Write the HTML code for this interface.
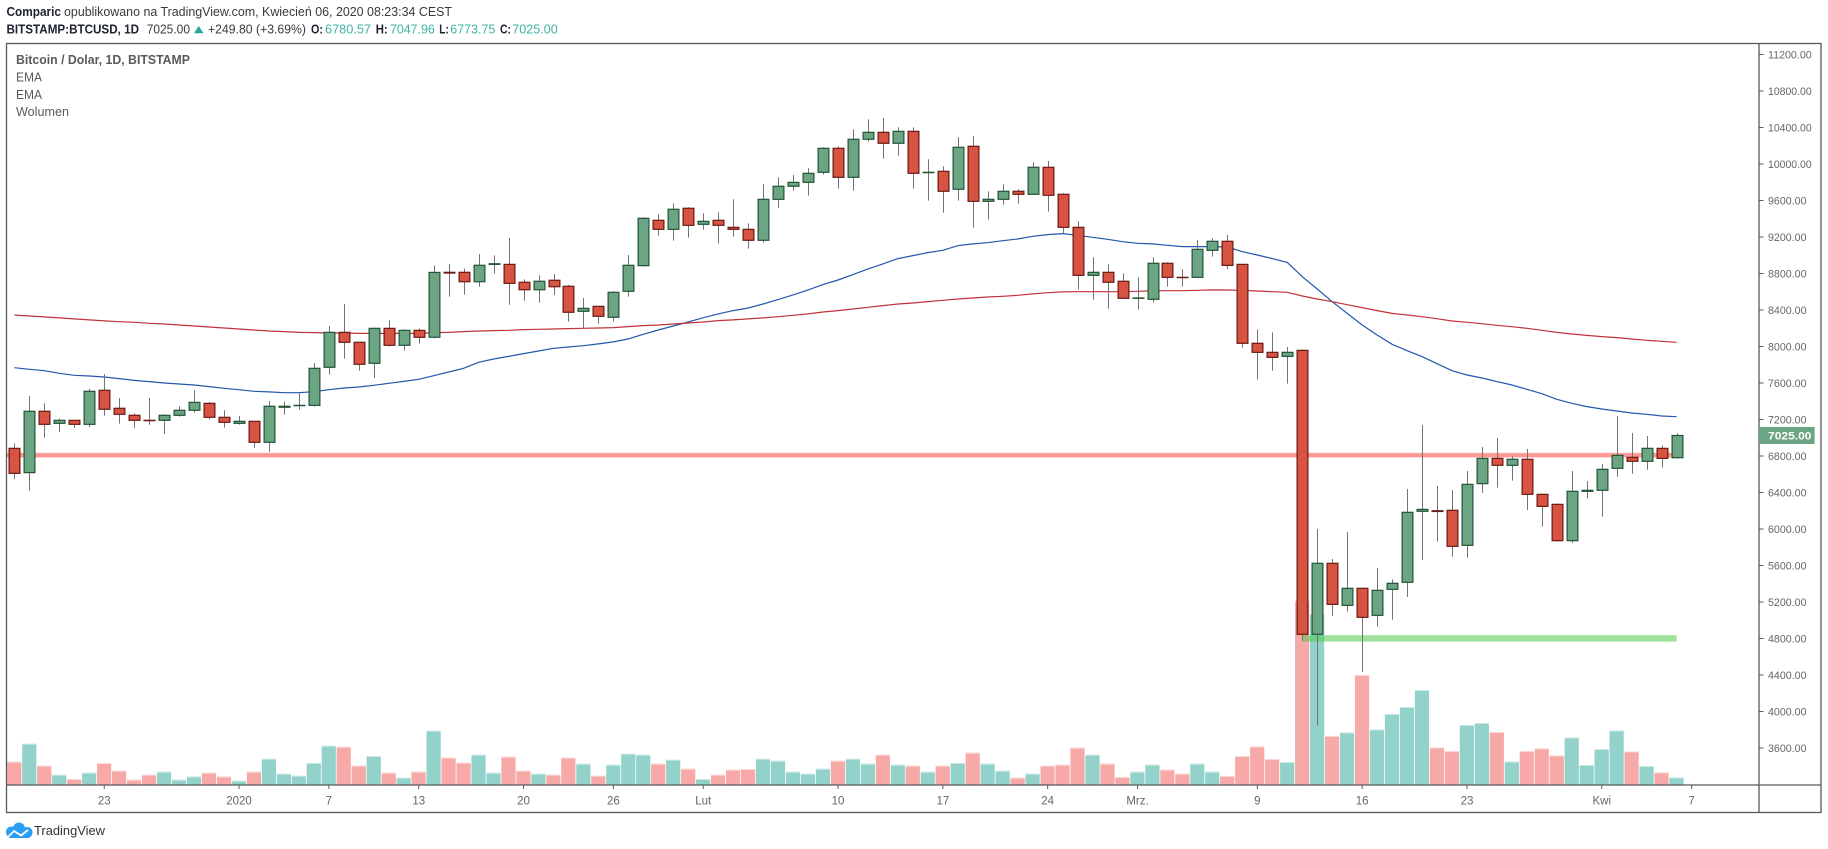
<!DOCTYPE html>
<html lang="pl">
<head>
<meta charset="utf-8">
<title>BTCUSD 1D chart</title>
<style>
html,body{margin:0;padding:0;background:#fff;}
body{width:1828px;height:849px;overflow:hidden;}
svg{display:block;font-family:"Liberation Sans",sans-serif;}
</style>
</head>
<body>
<svg id="chart" xmlns="http://www.w3.org/2000/svg" width="1828" height="849" viewBox="0 0 1828 849">
  <defs><clipPath id="plot-clip"><rect x="7" y="44" width="1752" height="741"/></clipPath></defs>
  <rect x="0" y="0" width="1828" height="849" fill="#fff"/>

  <g>
    <text x="6.5" y="16" font-size="12.5" font-weight="700" fill="#1d2230" textLength="54.5" lengthAdjust="spacingAndGlyphs">Comparic</text>
    <text x="64" y="16" font-size="12.5" fill="#3a3a3a" textLength="388" lengthAdjust="spacingAndGlyphs">opublikowano na TradingView.com, Kwiecień 06, 2020 08:23:34 CEST</text>
    <text x="6.5" y="33.5" font-size="12.5" font-weight="700" fill="#1d2230" textLength="132.5" lengthAdjust="spacingAndGlyphs">BITSTAMP:BTCUSD, 1D</text>
    <text x="146.7" y="33.5" font-size="12.5" fill="#3a3a3a" textLength="43.3" lengthAdjust="spacingAndGlyphs">7025.00</text>
    <polygon points="194,33.3 203.5,33.3 198.75,26" fill="#26a69a"/>
    <text x="208" y="33.5" font-size="12.5" fill="#3a3a3a" textLength="98" lengthAdjust="spacingAndGlyphs">+249.80 (+3.69%)</text>
    <text x="311" y="33.5" font-size="12.5" font-weight="700" fill="#1d2230" textLength="12" lengthAdjust="spacingAndGlyphs">O:</text>
    <text x="325" y="33.5" font-size="12.5" fill="#3eb3a3" textLength="46" lengthAdjust="spacingAndGlyphs">6780.57</text>
    <text x="375.7" y="33.5" font-size="12.5" font-weight="700" fill="#1d2230" textLength="12" lengthAdjust="spacingAndGlyphs">H:</text>
    <text x="390" y="33.5" font-size="12.5" fill="#3eb3a3" textLength="44.7" lengthAdjust="spacingAndGlyphs">7047.96</text>
    <text x="439.3" y="33.5" font-size="12.5" font-weight="700" fill="#1d2230" textLength="9.5" lengthAdjust="spacingAndGlyphs">L:</text>
    <text x="450.3" y="33.5" font-size="12.5" fill="#3eb3a3" textLength="45" lengthAdjust="spacingAndGlyphs">6773.75</text>
    <text x="500" y="33.5" font-size="12.5" font-weight="700" fill="#1d2230" textLength="11" lengthAdjust="spacingAndGlyphs">C:</text>
    <text x="512.3" y="33.5" font-size="12.5" fill="#3eb3a3" textLength="45.4" lengthAdjust="spacingAndGlyphs">7025.00</text>
  </g>

  <g id="volume-layer" clip-path="url(#plot-clip)"></g>
  <g id="ema-layer" clip-path="url(#plot-clip)"></g>
  <g id="level-layer" clip-path="url(#plot-clip)"></g>
  <g id="candle-layer" clip-path="url(#plot-clip)"></g>

  <g fill="none" stroke="#585858" stroke-width="1.3">
    <rect x="6.5" y="43.5" width="1814.5" height="769"/>
    <line x1="1759" y1="43.5" x2="1759" y2="812.5"/>
    <line x1="6.5" y1="785" x2="1821" y2="785"/>
  </g>

  <g id="price-axis"></g>
  <g id="time-axis"></g>

  <g>
    <rect id="last-box" x="1759" y="427" width="55.6" height="17" fill="#6ba583"/>
    <text id="last-text" x="1768" y="439.5" font-size="10.8" font-weight="700" fill="#fff" textLength="43.5" lengthAdjust="spacingAndGlyphs">7025.00</text>
  </g>

  <g>
    <text x="16" y="64" font-size="12.5" font-weight="700" fill="#5a5a5a" textLength="174" lengthAdjust="spacingAndGlyphs">Bitcoin / Dolar, 1D, BITSTAMP</text>
    <text x="16" y="81.5" font-size="12.5" fill="#5a5a5a" textLength="26" lengthAdjust="spacingAndGlyphs">EMA</text>
    <text x="16" y="99" font-size="12.5" fill="#5a5a5a" textLength="26" lengthAdjust="spacingAndGlyphs">EMA</text>
    <text x="16" y="116" font-size="12.5" fill="#5a5a5a" textLength="53" lengthAdjust="spacingAndGlyphs">Wolumen</text>
  </g>

  <g>
    <g fill="#2a9df4">
      <circle cx="11.5" cy="832" r="5.5"/>
      <circle cx="19" cy="828.5" r="6"/>
      <circle cx="27" cy="832.5" r="5.5"/>
      <rect x="9" y="831" width="20" height="7"/>
    </g>
    <polyline points="7,838 14,831 21,835.5 28,830" fill="none" stroke="#fff" stroke-width="1.8"/>
    <text x="34" y="835" font-size="13" fill="#333" textLength="71" lengthAdjust="spacingAndGlyphs">TradingView</text>
  </g>
</svg>

<script>
const opens = [6884,6618,7290,7158,7191,7147,7520,7323,7246,7191,
7191,7246,7301,7377,7224,7158,7180,6950,7334,7352,
7355,7772,8155,8046,7816,8199,8013,8177,8101,8813,
8813,8710,8900,8900,8704,8622,8726,8660,8386,8440,
8320,8605,8886,9383,9284,9515,9339,9383,9306,9284,
9164,9613,9756,9799,9909,10172,9854,10271,10347,10227,
10358,9905,9920,9723,10194,9591,9613,9701,9668,9964,
9668,9306,8780,8813,8715,8528,8517,8912,8758,8758,
9054,9153,8900,8035,7936,7892,7958,4846,5624,5163,
5350,5054,5339,5416,6194,6200,6205,5821,6497,6774,
6698,6764,6380,6270,5872,6413,6424,6665,6785,6742,
6884,6781];
const highs = [6939,7458,7377,7213,7195,7534,7699,7436,7268,7436,
7257,7345,7520,7392,7301,7239,7185,7403,7399,7494,
7819,8225,8466,8050,8205,8287,8188,8199,8889,8904,
8853,9014,8999,9189,8736,8780,8795,8674,8532,8445,
8605,9003,9416,9449,9569,9526,9460,9471,9613,9350,
9778,9854,9880,9953,10183,10194,10380,10490,10505,10402,
10402,10052,9975,10293,10304,9701,9778,9723,10019,10033,
9679,9372,8978,8901,8802,8758,8978,8923,8846,9164,
9186,9222,8905,8188,8155,7995,7969,6000,5671,5967,
5355,5573,5448,6438,7140,6471,6427,6636,6899,6997,
6796,6877,6385,6281,6636,6526,6712,7238,7052,7019,
6917,7048];
const lows = [6548,6420,7001,7063,7107,7118,7242,7155,7107,7144,
7041,7231,7275,7198,7111,7144,6891,6844,7253,7308,
7341,7692,7867,7735,7655,7998,7955,8031,8090,8546,
8568,8655,8798,8459,8503,8481,8564,8272,8199,8250,
8273,8547,8875,9215,9160,9193,9281,9127,9204,9073,
9138,9518,9708,9653,9884,9730,9708,10245,10059,10092,
9730,9599,9467,9599,9303,9390,9555,9566,9660,9478,
9237,8623,8514,8415,8525,8404,8481,8656,8656,8750,
8985,8849,7987,7637,7735,7593,4776,3845,5050,5094,
4436,4930,5006,5255,5660,5861,5697,5686,6394,6453,
6530,6208,6026,5861,5850,6336,6135,6573,6606,6650,
6672,6774];
const closes = [6610,7290,7147,7191,7147,7509,7312,7257,7191,7187,
7246,7301,7388,7224,7169,7180,6950,7345,7345,7355,
7761,8155,8046,7805,8199,8013,8177,8101,8812,8805,
8710,8890,8907,8692,8622,8715,8655,8375,8418,8331,
8594,8890,9405,9284,9504,9328,9372,9328,9284,9164,
9613,9756,9799,9898,10172,9854,10271,10347,10227,10358,
9898,9909,9701,10183,9591,9613,9701,9668,9964,9657,
9306,8780,8813,8704,8528,8532,8912,8758,8755,9065,
9153,8889,8035,7936,7881,7936,4846,5624,5174,5350,
5032,5328,5405,6183,6215,6192,5810,6489,6774,6698,
6764,6380,6248,5872,6413,6424,6654,6807,6742,6884,
6774,7025];
const volumes = [11.7,20.7,9.7,5.2,3.0,6.2,11.0,7.2,2.7,5.2,
6.7,2.7,4.3,6.2,4.3,2.2,6.7,13.2,5.7,4.7,
11.0,19.7,19.2,9.7,14.5,6.2,3.7,6.7,27.2,13.7,
11.2,15.2,6.2,14.2,7.2,5.7,5.2,13.7,10.7,4.7,
10.2,15.7,15.2,10.7,12.7,8.2,3.0,5.2,7.7,8.0,
13.2,12.2,6.7,5.7,8.2,12.2,13.2,10.7,15.2,10.2,
9.7,6.7,9.7,11.0,16.2,10.7,7.2,3.7,5.7,9.7,
10.2,18.7,15.2,10.7,4.0,6.7,10.2,7.7,5.7,10.7,
6.7,4.5,14.5,19.3,13.0,11.5,92.2,85.5,24.5,26.3,
55.0,27.8,35.5,39.0,47.5,18.8,17.0,30.0,31.0,26.5,
11.8,17.0,18.3,14.8,23.8,10.0,18.0,27.3,16.8,9.5,
6.3,3.8];
const emaFast = [7768,7750,7735,7706,7684,7677,7666,7648,7629,7615,
7600,7589,7578,7560,7542,7527,7509,7502,7494,7494,
7505,7527,7545,7556,7575,7597,7618,7640,7680,7721,
7761,7827,7863,7892,7922,7951,7980,7995,8009,8028,
8050,8083,8134,8181,8225,8269,8316,8357,8393,8422,
8466,8514,8565,8620,8678,8729,8788,8850,8905,8963,
8996,9029,9054,9105,9124,9138,9160,9178,9208,9226,
9237,9219,9197,9175,9149,9131,9124,9109,9095,9095,
9095,9090,9039,9003,8963,8922,8765,8630,8491,8363,
8236,8126,8024,7954,7889,7812,7735,7688,7655,7615,
7578,7531,7483,7421,7377,7341,7315,7293,7271,7257,
7238,7231];
const emaSlow = [8345,8334,8324,8313,8302,8291,8280,8272,8265,8254,
8247,8236,8225,8214,8203,8192,8181,8170,8163,8155,
8152,8148,8148,8144,8144,8144,8144,8144,8152,8155,
8163,8170,8174,8177,8185,8188,8192,8196,8199,8203,
8207,8218,8229,8236,8247,8258,8269,8284,8291,8302,
8313,8327,8342,8357,8378,8393,8411,8430,8448,8466,
8477,8492,8506,8521,8532,8543,8550,8561,8576,8590,
8598,8601,8601,8601,8601,8605,8609,8612,8612,8616,
8620,8619,8616,8608,8601,8594,8553,8521,8491,8458,
8426,8393,8363,8345,8327,8305,8279,8265,8250,8232,
8217,8199,8177,8155,8137,8122,8108,8097,8082,8068,
8057,8046];
const priceTicks = [11200,10800,10400,10000,9600,9200,8800,8400,8000,7600,7200,6800,6400,6000,5600,5200,4800,4400,4000,3600];
const timeLabels = ["23","2020","7","13","20","26","Lut","10","17","24","Mrz.","9","16","23","Kwi","7"];
const timeDayIndex = [6,15,21,27,34,40,46,55,62,69,75,83,90,97,106,112];
const resistanceLevel = 6809;
const supportLevel = 4801;
const supportStartDay = 86;
const levelEndDay = 111;
const lastPrice = 7025;

const NS = 'http://www.w3.org/2000/svg';
function x(i){ return 14.4 + i * 14.975; }
function y(p){ return 54.5 + (11200 - p) * 0.09125; }
function volHeight(v){ return v * 2; }
function make(tag, parent, props){
  const el = document.createElementNS(NS, tag);
  for (const k in props) el.setAttribute(k, props[k]);
  parent.appendChild(el);
  return el;
}

const volumeLayer = document.getElementById('volume-layer');
const emaLayer = document.getElementById('ema-layer');
const levelLayer = document.getElementById('level-layer');
const candleLayer = document.getElementById('candle-layer');
const priceAxis = document.getElementById('price-axis');
const timeAxis = document.getElementById('time-axis');
const VOL_BASE = 785;

volumes.forEach(function(v, i){
  const up = closes[i] >= opens[i];
  const h = volHeight(v);
  const cap = make('rect', volumeLayer, {x: x(i) - 7.2, y: VOL_BASE - h, width: 14.2, height: 1, fill: up ? '#c9e9e5' : '#fbd5d4'});
  
  
  const bar = make('rect', volumeLayer, {x: x(i) - 7.2, y: VOL_BASE - h + 1, width: 14.2, height: Math.max(h - 1, 0), fill: up ? '#93d2ca' : '#f7a9a7'});
  
  
});

const fastPath = make('polyline', emaLayer, {points: emaFast.map(function(p, i){ return x(i).toFixed(1) + ',' + y(p).toFixed(1); }).join(' '), fill: 'none', stroke: '#2257ad', 'stroke-width': 1.2});


const slowPath = make('polyline', emaLayer, {points: emaSlow.map(function(p, i){ return x(i).toFixed(1) + ',' + y(p).toFixed(1); }).join(' '), fill: 'none', stroke: '#c2323a', 'stroke-width': 1.2});



const resistanceEdge = make('rect', levelLayer, {x: 7, y: y(resistanceLevel) - 2.6, width: x(levelEndDay) - 7, height: 5.2, fill: '#ff9696', opacity: 0.35});


const resistance = make('rect', levelLayer, {x: 7, y: y(resistanceLevel) - 2, width: x(levelEndDay) - 7, height: 4, fill: '#ff9696'});


const supportEdge = make('rect', levelLayer, {x: x(supportStartDay), y: y(supportLevel) - 3.6, width: x(levelEndDay) - x(supportStartDay), height: 7.2, fill: '#50ca4b', opacity: 0.2});


const support = make('rect', levelLayer, {x: x(supportStartDay), y: y(supportLevel) - 3, width: x(levelEndDay) - x(supportStartDay), height: 6, fill: '#50ca4b', opacity: 0.45});



opens.forEach(function(o, i){
  const c = closes[i];
  const up = c >= o;
  const cx = Math.round(x(i));
  const wick = make('line', candleLayer, {x1: cx + 0.5, x2: cx + 0.5, y1: y(highs[i]), y2: y(lows[i]), stroke: '#737375', 'stroke-width': 1});
  
  
  const top = y(Math.max(o, c));
  const bottom = y(Math.min(o, c));
  const body = make('rect', candleLayer, {x: cx - 4.9, y: top, width: 10.8, height: Math.max(bottom - top, 0.3), fill: up ? '#6ba583' : '#d75442', stroke: up ? '#225437' : '#6b1914', 'stroke-width': 1.2});
  
  
});

priceTicks.forEach(function(p){
  const tick = make('line', priceAxis, {x1: 1759, x2: 1763.5, y1: y(p), y2: y(p), stroke: '#585858', 'stroke-width': 1});
  
  
  const label = make('text', priceAxis, {x: 1768, y: y(p) + 4, 'font-size': 10.8, fill: '#666', textLength: p >= 10000 ? 43.7 : 38.5, lengthAdjust: 'spacingAndGlyphs'});
  
  
  label.textContent = p.toFixed(2);
});

timeLabels.forEach(function(t, k){
  const tx = x(timeDayIndex[k]);
  const tick = make('line', timeAxis, {x1: tx, x2: tx, y1: 785, y2: 789, stroke: '#585858', 'stroke-width': 1});
  
  
  const label = make('text', timeAxis, {x: tx, y: 804.5, 'font-size': 11.5, fill: '#666', 'text-anchor': 'middle'});
  
  
  label.textContent = t;
});

document.getElementById('last-box').setAttribute('y', y(lastPrice) - 8.5);
document.getElementById('last-text').setAttribute('y', y(lastPrice) + 4);
document.getElementById('last-text').textContent = lastPrice.toFixed(2);
</script>
</body>
</html>
